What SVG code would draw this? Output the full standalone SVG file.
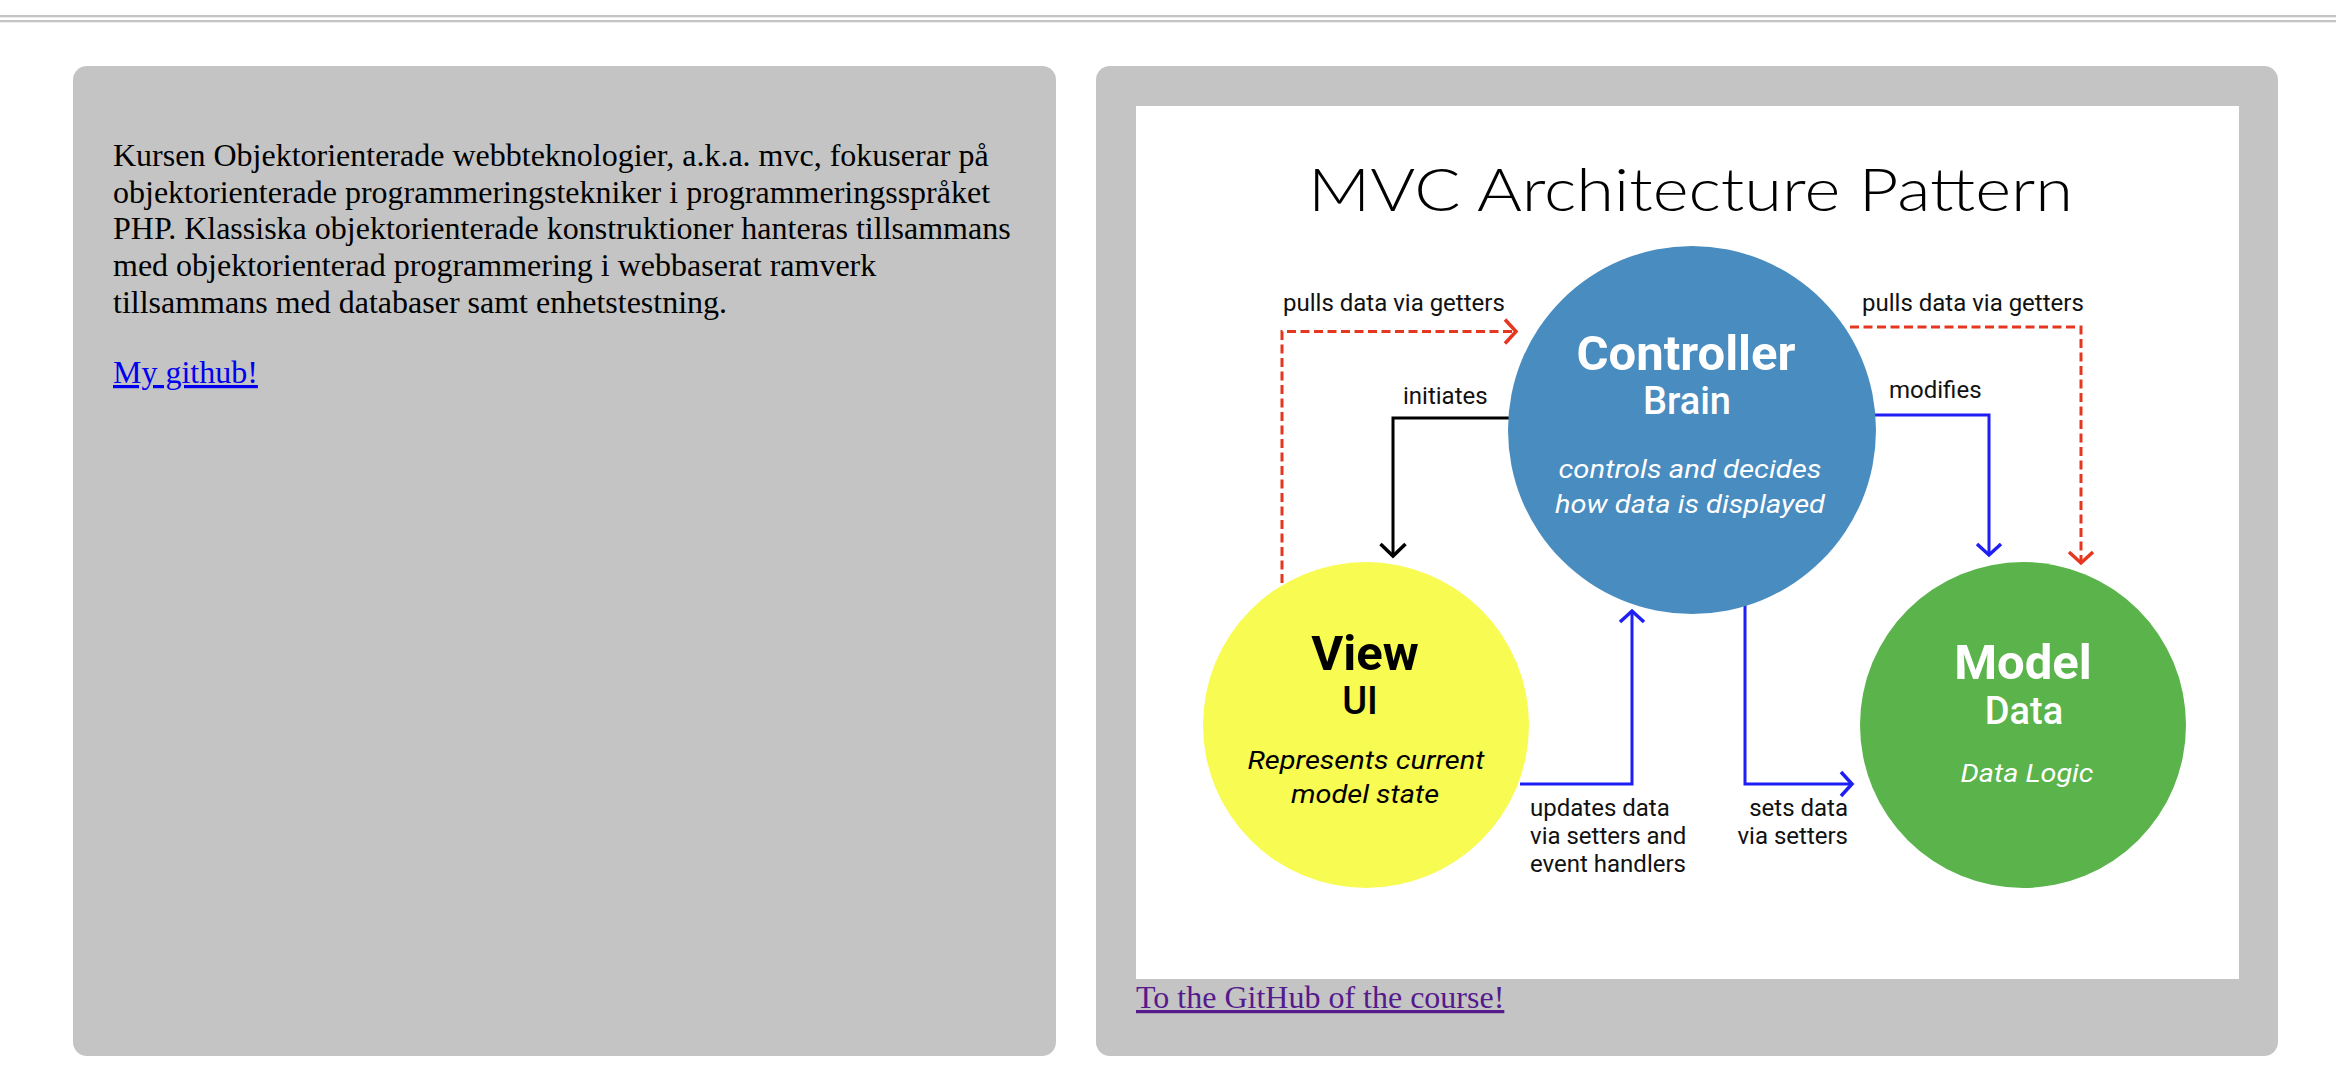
<svg xmlns="http://www.w3.org/2000/svg" width="2336" height="1090" viewBox="0 0 2336 1090">
<style>
.panel{fill:#c4c4c4}
.body{font-family:"Liberation Serif","Times New Roman",serif;font-size:32px;fill:#000}
.lbl{font-family:Roboto,"Liberation Sans",sans-serif;font-size:24px;fill:#111}
.ttl{font-family:Roboto,"Liberation Sans",sans-serif;font-weight:700;font-size:49px;text-anchor:middle}
.sub{font-family:Roboto,"Liberation Sans",sans-serif;font-weight:500;font-size:38px;text-anchor:middle}
.desc{font-family:Roboto,"Liberation Sans",sans-serif;font-style:italic;font-size:25px;text-anchor:middle}
.w{fill:#fff}.k{fill:#000}
.red{fill:none;stroke:#e5371f;stroke-width:3;stroke-dasharray:9 4.5}
.blue{fill:none;stroke:#1f1ff5;stroke-width:3}
.blk{fill:none;stroke:#000;stroke-width:3}
</style>
<defs>
<marker id="aRed" markerUnits="userSpaceOnUse" viewBox="-16 -16 32 32" markerWidth="32" markerHeight="32" refX="0" refY="0" orient="auto"><path d="M-11,-12 L0,0 L-11,12" fill="none" stroke="#e5371f" stroke-width="3.5"/></marker>
<marker id="aBlue" markerUnits="userSpaceOnUse" viewBox="-16 -16 32 32" markerWidth="32" markerHeight="32" refX="0" refY="0" orient="auto"><path d="M-11,-12 L0,0 L-11,12" fill="none" stroke="#1f1ff5" stroke-width="3.5"/></marker>
<marker id="aBlk" markerUnits="userSpaceOnUse" viewBox="-16 -16 32 32" markerWidth="32" markerHeight="32" refX="0" refY="0" orient="auto"><path d="M-12,-12.5 L0,0 L-12,12.5" fill="none" stroke="#000" stroke-width="3.5"/></marker>
</defs>
<rect width="2336" height="1090" fill="#fff"/>
<rect x="0" y="15" width="2336" height="2.3" fill="#c4c4c4"/>
<rect x="0" y="20" width="2336" height="2.3" fill="#c4c4c4"/>

<g id="left-panel">
<rect class="panel" x="73" y="66" width="983" height="990" rx="14"/>
<text class="body" x="113" y="166">Kursen Objektorienterade webbteknologier, a.k.a. mvc, fokuserar på</text>
<text class="body" x="113" y="203">objektorienterade programmeringstekniker i programmeringsspråket</text>
<text class="body" x="113" y="239">PHP. Klassiska objektorienterade konstruktioner hanteras tillsammans</text>
<text class="body" x="113" y="276">med objektorienterad programmering i webbaserat ramverk</text>
<text class="body" x="113" y="313">tillsammans med databaser samt enhetstestning.</text>
<text class="body" x="113" y="383" style="fill:#0000ee;text-decoration:underline">My github!</text>
</g>

<g id="right-panel">
<rect class="panel" x="1096" y="66" width="1182" height="990" rx="14"/>
<rect x="1136" y="106" width="1103" height="873" fill="#fff"/>
<text class="body" x="1136" y="1008" style="fill:#551a8b;text-decoration:underline">To the GitHub of the course!</text>
</g>

<g id="title">
<text x="1308" y="211" font-family="Lato,'Open Sans','Liberation Sans',sans-serif" font-weight="300" font-size="60" textLength="765" lengthAdjust="spacingAndGlyphs" fill="#000">MVC Architecture Pattern</text>
</g>

<g id="connectors">
<path class="red" d="M1282,583 V331.5 H1516" marker-end="url(#aRed)"/>
<path class="red" d="M1850,327 H2081 V563" marker-end="url(#aRed)"/>
<path class="blk" d="M1510,418 H1393 V556" marker-end="url(#aBlk)"/>
<path class="blue" d="M1874,415 H1989 V555" marker-end="url(#aBlue)"/>
<path class="blue" d="M1520,784 H1632 V611" marker-end="url(#aBlue)"/>
<path class="blue" d="M1745,600 V784 H1852" marker-end="url(#aBlue)"/>
<text class="lbl" x="1283" y="311">pulls data via getters</text>
<text class="lbl" x="1862" y="311">pulls data via getters</text>
<text class="lbl" x="1403" y="404">initiates</text>
<text class="lbl" x="1889" y="398">modifies</text>
<text class="lbl" x="1530" y="816">updates data</text>
<text class="lbl" x="1530" y="844">via setters and</text>
<text class="lbl" x="1530" y="872">event handlers</text>
<text class="lbl" x="1848" y="816" text-anchor="end">sets data</text>
<text class="lbl" x="1848" y="844" text-anchor="end">via setters</text>
</g>

<g id="controller">
<circle cx="1692" cy="430" r="184" fill="#488cc0"/>
<text class="ttl w" x="1686" y="370">Controller</text>
<text class="sub w" x="1687" y="414">Brain</text>
<text class="desc w" x="1690" y="478" textLength="263" lengthAdjust="spacingAndGlyphs">controls and decides</text>
<text class="desc w" x="1690" y="513" textLength="270" lengthAdjust="spacingAndGlyphs">how data is displayed</text>
</g>

<g id="view">
<circle cx="1366" cy="725" r="163" fill="#f8fb52"/>
<text class="ttl k" x="1365" y="670">View</text>
<text class="sub k" x="1360" y="714">UI</text>
<text class="desc k" x="1366" y="769" textLength="237" lengthAdjust="spacingAndGlyphs">Represents current</text>
<text class="desc k" x="1365" y="803" textLength="148" lengthAdjust="spacingAndGlyphs">model state</text>
</g>

<g id="model">
<circle cx="2023" cy="725" r="163" fill="#5ab44b"/>
<text class="ttl w" x="2023" y="679">Model</text>
<text class="sub w" x="2024" y="724">Data</text>
<text class="desc w" x="2027" y="782" textLength="133" lengthAdjust="spacingAndGlyphs">Data Logic</text>
</g>
</svg>
